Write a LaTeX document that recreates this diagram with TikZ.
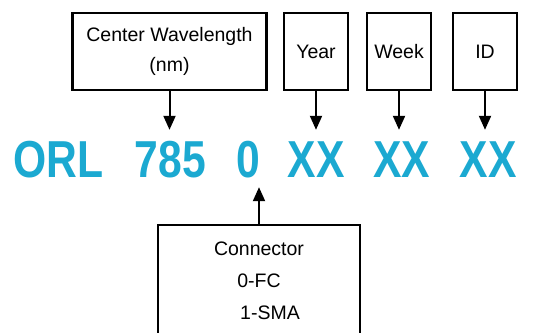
\documentclass[tikz,border=0pt]{standalone}
\usepackage{fontspec}
\usepackage{xcolor}
\usetikzlibrary{arrows.meta}
\setmainfont{Liberation Sans}
\newfontfamily\codefont[FakeStretch=0.82]{Liberation Sans Bold}
\definecolor{partblue}{HTML}{1BA9D1}

\begin{document}
\begin{tikzpicture}[x=1pt, y=-1pt,
    field/.style={draw, line width=2.2pt, minimum height=77pt, inner sep=0pt,
      align=center, font=\fontsize{19.5}{30}\selectfont},
    code/.style={text=partblue, font=\codefont\fontsize{52}{52}\selectfont,
      text height=37pt, text depth=0pt, inner xsep=0pt, inner ysep=10pt},
    pointer/.style={line width=2pt, -{Triangle[width=12pt,length=14pt]}}]
  \clip (0,0) rectangle (545,332);

  % boxes above the part number
  \node[field, minimum width=194pt] (wave) at (169.5, 51.5) {Center Wavelength\\(nm)};
  \node[field, minimum width=64pt] (year) at (316, 51.5) {Year};
  \node[field, minimum width=64pt] (week) at (399, 51.5) {Week};
  \node[field, minimum width=64pt] (id) at (485, 51.5) {ID};

  % the part number itself
  \node[code] (orl) at (58.5, 158.5) {ORL};
  \node[code] (wl) at (170.5, 158.5) {785};
  \node[code] (zero) at (248.5, 158.5) {0};
  \node[code] (yr) at (316, 158.5) {XX};
  \node[code] (wk) at (401.5, 158.5) {XX};
  \node[code] (num) at (488, 158.5) {XX};

  % box below
  \node[field, anchor=north, minimum width=202pt, minimum height=112pt,
    font=\fontsize{19.5}{32}\selectfont] (conn) at (259, 224)
    {Connector\\0-FC\\\hspace*{22pt}1-SMA};

  \draw[pointer] (wave.south) -- (wave.south |- wl.north);
  \draw[pointer] (year.south) -- (year.south |- yr.north);
  \draw[pointer] (week.south) -- (week.south |- wk.north);
  \draw[pointer] (id.south) -- (id.south |- num.north);
  \draw[pointer] (conn.north) -- (conn.north |- zero.south);
\end{tikzpicture}
\end{document}
